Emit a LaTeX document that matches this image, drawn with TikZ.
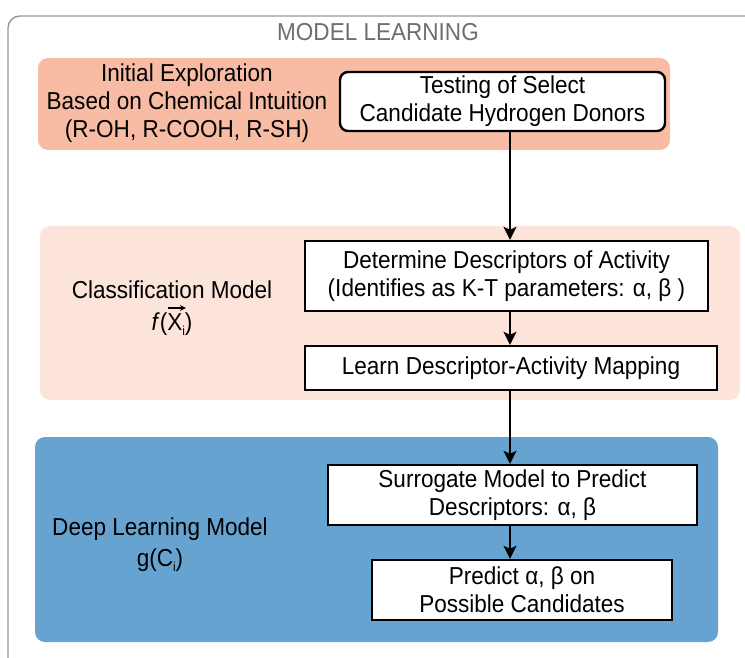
\documentclass[tikz,border=0pt]{standalone}
\usepackage{fontspec}
\setmainfont{Liberation Sans}[FakeStretch=0.92]
\usetikzlibrary{arrows.meta}
\definecolor{frameGray}{HTML}{9A9A9A}
\definecolor{titleGray}{HTML}{6E6E6E}
\definecolor{salmon}{HTML}{F8BCA5}
\definecolor{paleSalmon}{HTML}{FCE4DA}
\definecolor{steelBlue}{HTML}{66A3D0}
% X with a long arrow over it, and a lowered subscript
\newcommand{\arrowX}{\leavevmode\rlap{\smash{\raisebox{19pt}{\tikz[x=1pt,y=1pt]\draw[line width=1.3pt,-{Stealth[length=6pt,width=6pt]}] (0,0) -- (18,0);}}}X}
\newcommand{\lowsub}[1]{\raisebox{-5pt}{\fontsize{13}{13}\selectfont #1}}
\tikzset{
  panel/.style={rounded corners=10pt, draw=none},
  bodyfont/.style={font=\fontsize{24.5}{28}\selectfont},
  stepbox/.style={draw=black, line width=2.4pt, fill=white, align=center,
    inner sep=0pt, bodyfont},
  sidetext/.style={align=center, inner sep=0pt, bodyfont},
  arr/.style={line width=1.6pt, -{Stealth[length=13pt,width=13pt,inset=3pt]}}
}
\begin{document}
\begin{tikzpicture}[x=1pt,y=-1pt]
\useasboundingbox (0,0) rectangle (745,658);
% outer frame, open to the right and bottom
\draw[frameGray, line width=1.4pt, rounded corners=12pt] (8,660) -- (8,16) -- (747,16);
\node[bodyfont, text=titleGray] (title) at (378,32) {MODEL LEARNING};

% background panels
\fill[panel, salmon] (38,58) rectangle (670,150);
\fill[panel, paleSalmon] (40,226) rectangle (740,400);
\fill[panel, steelBlue] (35,437) rectangle (718,642);

% left-hand labels
\node[sidetext] (explore) at (187,103) {Initial Exploration\\Based on Chemical Intuition\\(R-OH, R-COOH, R-SH)};
\node[sidetext] (classif) at (172,290) {Classification Model};
\node[sidetext, anchor=base] (classiffn) at (172,330) {\textit{f}(\arrowX\lowsub{i})};
\node[sidetext] (deep) at (160,529) {Deep Learning Model};
\node[sidetext, anchor=base] (deepfn) at (160,566) {g(C\lowsub{i})};

% process steps
\node[stepbox, rounded corners=8pt, minimum width=325pt, minimum height=59pt] (testing) at (502.5,101.5)
  {Testing of Select\\Candidate Hydrogen Donors};
\node[stepbox, minimum width=403pt, minimum height=70pt] (determine) at (506.5,276)
  {Determine Descriptors of Activity\\(Identifies as K-T parameters: α, β )};
\node[stepbox, minimum width=412pt, minimum height=44pt] (learn) at (511,368)
  {Learn Descriptor-Activity Mapping};
\node[stepbox, minimum width=369pt, minimum height=60pt] (surrogate) at (512.5,495)
  {Surrogate Model to Predict\\Descriptors: α, β};
\node[stepbox, minimum width=300pt, minimum height=60pt] (predict) at (522,590)
  {Predict α, β on\\Possible Candidates};

% connectors along one vertical line
\coordinate (spine) at (510,0);
\draw[arr] (testing.south -| spine) -- (determine.north -| spine);
\draw[arr] (determine.south -| spine) -- (learn.north -| spine);
\draw[arr] (learn.south -| spine) -- (surrogate.north -| spine);
\draw[arr] (surrogate.south -| spine) -- (predict.north -| spine);
\end{tikzpicture}
\end{document}
